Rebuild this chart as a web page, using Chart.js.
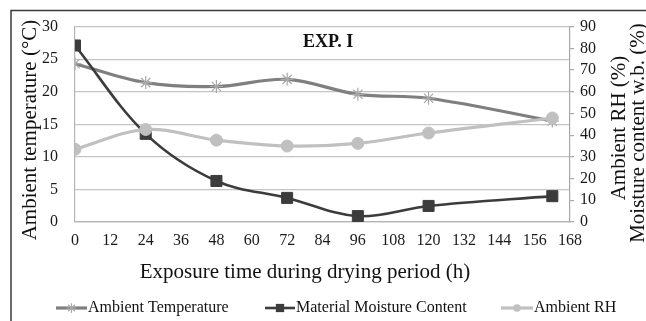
<!DOCTYPE html>
<html>
<head>
<meta charset="utf-8">
<script src="https://cdn.jsdelivr.net/npm/chart.js@4/dist/chart.umd.min.js"></script>
<style>
  html, body { margin: 0; padding: 0; background: #ffffff; }
  #wrap { position: relative; width: 646px; height: 321px; }
  canvas { display: block; }
</style>
</head>
<body>
<div id="wrap"><canvas id="chart" width="646" height="321"></canvas></div>
<script>
// Exposure time (h) at each sampling
const hours = [0, 24, 48, 72, 96, 120, 162];
// Ambient temperature (°C), left axis
const temperature = [24.3, 21.4, 20.8, 21.9, 19.6, 19.0, 15.5];
// Material moisture content w.b. (%), right axis
const moistureContent = [81.3, 40.6, 18.9, 11.1, 2.7, 7.4, 11.9];
// Ambient relative humidity (%), right axis
const ambientRH = [33.5, 42.6, 37.7, 35.0, 36.2, 41.0, 47.9];

const seriesNames = ['Ambient Temperature', 'Material Moisture Content', 'Ambient RH'];
const titleText = 'EXP. I';
const xTitle = 'Exposure time during drying period (h)';
const yLeftTitle = 'Ambient temperature (°C)';
const yRightTitles = ['Ambient RH (%)', 'Moisture content w.b. (%)'];

const SERIF = '"Liberation Serif", "Times New Roman", "DejaVu Serif", serif';

const toPoints = (vals) => hours.map((h, i) => ({ x: h, y: vals[i] }));

const styles = [
  { line: '#7f7f7f', width: 3.2, point: 'star', radius: 6.5, fill: '#a8a8a8', border: '#a8a8a8', bw: 1.2 },
  { line: '#3c3c3c', width: 2.6, point: 'rect', radius: 7.8, fill: '#3c3c3c', border: '#3c3c3c', bw: 1 },
  { line: '#c0c0c0', width: 3.2, point: 'circle', radius: 6, fill: '#c0c0c0', border: '#c0c0c0', bw: 1 }
];

const datasets = [
  { label: seriesNames[0], data: toPoints(temperature), yAxisID: 'y', order: 3 },
  { label: seriesNames[1], data: toPoints(moistureContent), yAxisID: 'y1', order: 2 },
  { label: seriesNames[2], data: toPoints(ambientRH), yAxisID: 'y1', order: 1 }
].map((d, i) => Object.assign(d, {
  borderColor: styles[i].line,
  borderWidth: styles[i].width,
  pointStyle: styles[i].point,
  pointRadius: styles[i].radius,
  pointHoverRadius: styles[i].radius,
  pointBackgroundColor: styles[i].fill,
  pointBorderColor: styles[i].border,
  pointBorderWidth: styles[i].bw,
  tension: 0.35,
  fill: false
}));

// Titles, axis captions, frame and legend drawn on top of the chart
const decorations = {
  id: 'decorations',
  afterDraw(chart) {
    const ctx = chart.ctx;
    ctx.save();
    // frame
    ctx.strokeStyle = '#3a3a3a';
    ctx.lineWidth = 1.5;
    ctx.beginPath();
    ctx.moveTo(11, 321);
    ctx.lineTo(11, 10.5);
    ctx.lineTo(646, 10.5);
    ctx.stroke();

    ctx.fillStyle = '#111';
    ctx.textBaseline = 'middle';

    // chart title
    ctx.font = 'bold 18px ' + SERIF;
    ctx.textAlign = 'left';
    ctx.fillText(titleText, 303, 42);

    // x axis title
    ctx.font = '21px ' + SERIF;
    ctx.textAlign = 'center';
    ctx.fillText(xTitle, 305, 272);

    // left axis title
    ctx.save();
    ctx.translate(30, 130);
    ctx.rotate(-Math.PI / 2);
    ctx.fillText(yLeftTitle, 0, 0);
    ctx.restore();

    // right axis titles
    [[619, 128], [638, 133]].forEach((p, i) => {
      ctx.save();
      ctx.translate(p[0], p[1]);
      ctx.rotate(-Math.PI / 2);
      ctx.fillText(yRightTitles[i], 0, 0);
      ctx.restore();
    });

    // legend
    const legendY = 308;
    const items = [
      { x0: 56, x1: 87, tx: 88 },
      { x0: 265, x1: 295, tx: 296 },
      { x0: 501, x1: 533, tx: 534 }
    ];
    ctx.font = '16px ' + SERIF;
    ctx.textAlign = 'left';
    items.forEach((it, i) => {
      const s = styles[i];
      const cx = (it.x0 + it.x1) / 2;
      ctx.strokeStyle = s.line;
      ctx.lineWidth = s.width;
      ctx.beginPath();
      ctx.moveTo(it.x0, legendY);
      ctx.lineTo(it.x1, legendY);
      ctx.stroke();

      ctx.fillStyle = s.fill;
      ctx.strokeStyle = s.border;
      ctx.lineWidth = s.bw;
      ctx.beginPath();
      const r = s.radius * 0.75;
      if (s.point === 'rect') {
        const h = r * Math.SQRT1_2;
        ctx.rect(cx - h, legendY - h, 2 * h, 2 * h);
        ctx.fill();
      } else if (s.point === 'circle') {
        ctx.arc(cx, legendY, r * 0.85, 0, Math.PI * 2);
        ctx.fill();
      } else {
        for (let k = 0; k < 4; k++) {
          const a = k * Math.PI / 4;
          ctx.moveTo(cx - Math.cos(a) * r, legendY - Math.sin(a) * r);
          ctx.lineTo(cx + Math.cos(a) * r, legendY + Math.sin(a) * r);
        }
        ctx.stroke();
      }
      ctx.fillStyle = '#111';
      ctx.fillText(seriesNames[i], it.tx, legendY);
    });
    ctx.restore();
  }
};

new Chart(document.getElementById('chart'), {
  type: 'line',
  data: { datasets },
  options: {
    responsive: false,
    animation: false,
    devicePixelRatio: 1,
    layout: { padding: { top: 24, left: 0, right: 0, bottom: 0 } },
    plugins: {
      legend: { display: false },
      tooltip: { enabled: false },
      title: { display: false }
    },
    scales: {
      x: {
        type: 'linear',
        min: 0,
        max: 168,
        ticks: {
          stepSize: 12,
          padding: 9,
          color: '#1a1a1a',
          font: { family: SERIF, size: 16 },
          maxRotation: 0,
          autoSkip: false
        },
        grid: { drawOnChartArea: false, drawTicks: false },
        border: { display: true, color: '#b5b5b5', width: 1.2 },
        afterFit(scale) { scale.height = 99; }
      },
      y: {
        position: 'left',
        min: 0,
        max: 30,
        ticks: {
          stepSize: 5,
          padding: 17,
          autoSkip: false,
          color: '#1a1a1a',
          font: { family: SERIF, size: 16 }
        },
        grid: { color: '#c4c4c4', lineWidth: 1.2, drawTicks: false },
        border: { display: true, color: '#b5b5b5', width: 1.2 },
        afterFit(scale) { scale.width = 75; }
      },
      y1: {
        position: 'right',
        min: 0,
        max: 90,
        ticks: {
          stepSize: 10,
          padding: 6,
          autoSkip: false,
          color: '#1a1a1a',
          font: { family: SERIF, size: 16 }
        },
        grid: { drawOnChartArea: false, drawTicks: true, tickLength: 4, color: '#a8a8a8', lineWidth: 1.2 },
        border: { display: true, color: '#a8a8a8', width: 1.2 },
        afterFit(scale) { scale.width = 76; }
      }
    }
  },
  plugins: [decorations]
});
</script>
</body>
</html>
